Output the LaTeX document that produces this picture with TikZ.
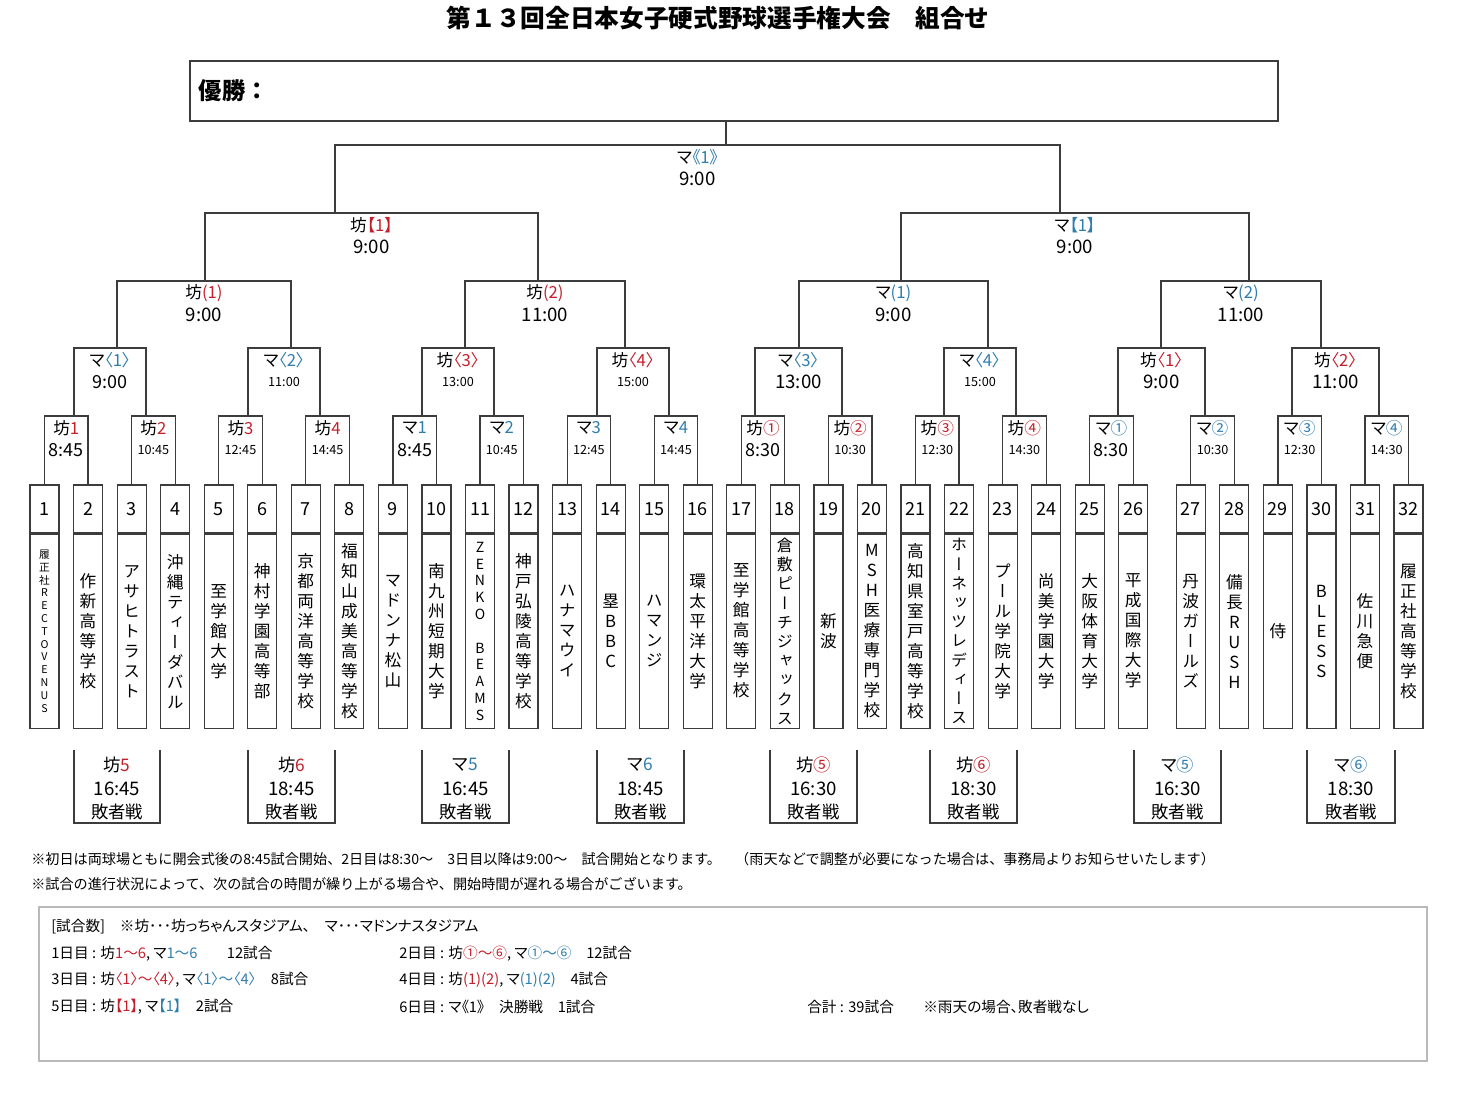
\documentclass[tikz,border=0pt]{standalone}
\usepackage{fontspec}
\setmainfont{Noto Sans CJK JP}
\newfontfamily\tatefont[RawFeature=+vert]{Noto Sans CJK JP}
\newfontfamily\paltfont[RawFeature=+palt]{Noto Sans CJK JP}
\usetikzlibrary{positioning}

\definecolor{boured}{HTML}{C3202B}
\definecolor{mablue}{HTML}{2F7DAE}
\definecolor{linegray}{HTML}{3C3C3C}
\definecolor{framegray}{HTML}{B9B9B9}

% stadium labels: number part coloured
\newcommand\bou[1]{坊\textcolor{boured}{#1}}
\newcommand\ma[1]{マ\textcolor{mablue}{#1}}

% team names written top to bottom, one character per line
\def\tateloop#1{\ifx#1\relax\else\hbox to 0pt{\hss#1\hss}\expandafter\tateloop\fi}
\newcommand\tate[1]{\vbox{\tatefont\expandafter\tateloop#1\relax}}

\begin{document}
\begin{tikzpicture}[
    x=0.75pt, y=-0.75pt,
    % Define line styles
    bracket/.style={draw=linegray, line width=0.9pt},
    numbox/.style={draw=linegray, line width=0.9pt, minimum width=21.75pt, minimum height=36pt,
        inner sep=0pt, font=\fontsize{13.5}{15}\selectfont},
    namebox/.style={draw=linegray, line width=0.9pt, minimum width=21.75pt, minimum height=145.5pt,
        inner sep=0pt},
    matchlbl/.style={inner sep=0pt, font=\paltfont\fontsize{12.5}{14}\selectfont},
    timelbl/.style={inner sep=0pt},
    loserlbl/.style={inner sep=0pt, font=\paltfont\fontsize{13}{15}\selectfont},
    notetext/.style={anchor=west, inner sep=0pt, font=\fontsize{10.6}{12}\selectfont},
    infotext/.style={anchor=west, inner sep=0pt, font=\paltfont\fontsize{11}{12}\selectfont}
]

% Page size
\useasboundingbox (0,0) rectangle (1472,1112);

% Title
\node[font=\bfseries\fontsize{18.5}{20}\selectfont] (title) at (718,18) {第１３回全日本女子硬式野球選手権大会　組合せ};

% Champion box
\node[draw=linegray, line width=0.9pt, minimum width=816pt, minimum height=45pt, inner sep=0pt] (champ) at (734,91) {};
\node[anchor=west, font=\bfseries\fontsize{17.5}{20}\selectfont] (yusho) at (194,91) {優勝：};
\draw[bracket] (champ.south -| 726,0) -- (726,145);

% Team boxes: number on top, name below
\foreach \i in {1,...,32} {
    \pgfmathsetmacro\cx{44.5+(\i-1)*43.55+(\i>26)*14}
    \node[numbox] (t\i) at (\cx,509) {\i};
    \node[namebox, below=0pt of t\i] (n\i) {};
}

% Team names
\foreach \i/\name/\sz in {
    1/履正社RECTOVENUS/8, 2/作新高等学校/12.5, 3/アサヒトラスト/12.5, 4/沖縄ティーダバル/12.5,
    5/至学館大学/12.5, 6/神村学園高等部/12.5, 7/京都両洋高等学校/12.5, 8/福知山成美高等学校/12.5,
    9/マドンナ松山/12.5, 10/南九州短期大学/12.5, 11/ZENKO~BEAMS/10.5, 12/神戸弘陵高等学校/12.5,
    13/ハナマウイ/12.5, 14/塁BBC/12.5, 15/ハマンジ/12.5, 16/環太平洋大学/12.5,
    17/至学館高等学校/12.5, 18/倉敷ピーチジャックス/12, 19/新波/12.5, 20/MSH医療専門学校/12.5,
    21/高知県室戸高等学校/12.5, 22/ホーネッツレディース/12, 23/プール学院大学/12.5, 24/尚美学園大学/12.5,
    25/大阪体育大学/12.5, 26/平成国際大学/12.5, 27/丹波ガールズ/12.5, 28/備長RUSH/12.5,
    29/侍/12.5, 30/BLESS/12.5, 31/佐川急便/12.5, 32/履正社高等学校/12.5} {
    \pgfmathsetmacro\bs{1.2*\sz}
    \node[inner sep=0pt, font=\fontsize{\sz}{\bs}\selectfont] (name\i) at (n\i.center) {\tate{\name}};
}

% First round: from team to team
\foreach \k/\lab/\tm/\fs in {
    1/\bou{1}/8:45/13.5, 2/\bou{2}/10:45/9.5, 3/\bou{3}/12:45/9.5, 4/\bou{4}/14:45/9.5,
    5/\ma{1}/8:45/13.5, 6/\ma{2}/10:45/9.5, 7/\ma{3}/12:45/9.5, 8/\ma{4}/14:45/9.5,
    9/\bou{①}/8:30/13.5, 10/\bou{②}/10:30/9.5, 11/\bou{③}/12:30/9.5, 12/\bou{④}/14:30/9.5,
    13/\ma{①}/8:30/13.5, 14/\ma{②}/10:30/9.5, 15/\ma{③}/12:30/9.5, 16/\ma{④}/14:30/9.5} {
    \pgfmathtruncatemacro\a{2*\k-1}
    \pgfmathtruncatemacro\b{2*\k}
    \draw[bracket] (t\a.north) -- (t\a.north |- 0,416) -- (t\b.north |- 0,416) -- (t\b.north);
    \path (t\a.north |- 0,428) -- (t\b.north |- 0,428) node[midway, matchlbl] (r\k) {\lab};
    \path (t\a.north |- 0,450) -- (t\b.north |- 0,450) node[midway, timelbl, font=\fontsize{\fs}{\fs}\selectfont] (rt\k) {\tm};
}

% Later rounds: legs, top line, label and start time
\foreach \l/\r/\yt/\yc/\lab/\tm/\fs in {
    74/146/348/416/\ma{〈1〉}/9:00/13.5, 248/320/348/416/\ma{〈2〉}/11:00/9.5,
    422/494/348/416/\bou{〈3〉}/13:00/9.5, 597/669/348/416/\bou{〈4〉}/15:00/9.5,
    755/842/348/416/\ma{〈3〉}/13:00/14, 944/1016/348/416/\ma{〈4〉}/15:00/9.5,
    1118/1205/348/416/\bou{〈1〉}/9:00/14, 1292/1379/348/416/\bou{〈2〉}/11:00/14,
    117/291/281/348/\bou{(1)}/9:00/14, 465/625/281/348/\bou{(2)}/11:00/14,
    799/988/281/348/\ma{(1)}/9:00/14, 1161/1321/281/348/\ma{(2)}/11:00/14,
    205/538/213/281/\bou{【1】}/9:00/14, 901/1249/213/281/\ma{【1】}/9:00/14,
    335/1060/145/213/\ma{《1》}/9:00/14} {
    \draw[bracket] (\l,\yc) |- (\r,\yt) -- (\r,\yc);
    \node[matchlbl] (m\l) at ({(\l+\r)/2},\yt+12) {\lab};
    \node[timelbl, font=\fontsize{\fs}{\fs}\selectfont] (mt\l) at ({(\l+\r)/2},\yt+34) {\tm};
}

% Losers' games
\foreach \l/\r/\lab/\tm in {
    74/160/\bou{5}/16:45, 248/335/\bou{6}/18:45, 422/509/\ma{5}/16:45, 597/684/\ma{6}/18:45,
    770/857/\bou{⑤}/16:30, 930/1017/\bou{⑥}/18:30, 1134/1221/\ma{⑤}/16:30, 1307/1395/\ma{⑥}/18:30} {
    \draw[bracket] (\l,750) |- (\r,823) -- (\r,750);
    \node[loserlbl] (lb\l) at ({(\l+\r)/2},765) {\lab};
    \node[loserlbl, font=\fontsize{14}{15}\selectfont] (lt\l) at ({(\l+\r)/2},789) {\tm};
    \node[loserlbl] (lz\l) at ({(\l+\r)/2},812) {敗者戦};
}

% Notes
\node[notetext] (note1) at (31,859) {※初日は両球場ともに開会式後の8:45試合開始、2日目は8:30～　3日目以降は9:00～　試合開始となります。　（雨天などで調整が必要になった場合は、事務局よりお知らせいたします）};
\node[notetext] (note2) at (31,884) {※試合の進行状況によって、次の試合の時間が繰り上がる場合や、開始時間が遅れる場合がございます。};

% Number of games
\draw[draw=framegray, line width=1pt] (39,907) rectangle (1427,1061);
\node[infotext] (info0) at (51,927) {[試合数]　※坊･･･坊っちゃんスタジアム、　マ･･･マドンナスタジアム};
\node[infotext] (day1) at (51,954) {1日目 : \bou{1～6}, \ma{1～6}　　12試合};
\node[infotext] (day2) at (399,954) {2日目 : \bou{①～⑥}, \ma{①～⑥}　12試合};
\node[infotext] (day3) at (51,980) {3日目 : \bou{〈1〉～〈4〉}, \ma{〈1〉～〈4〉}　8試合};
\node[infotext] (day4) at (399,980) {4日目 : \bou{(1)(2)}, \ma{(1)(2)}　4試合};
\node[infotext] (day5) at (51,1007) {5日目 : \bou{【1】}, \ma{【1】}　2試合};
\node[infotext] (day6) at (399,1007) {6日目 : マ《1》　決勝戦　1試合};
\node[infotext] (total) at (807,1007) {合計 : 39試合　　※雨天の場合、敗者戦なし};

\end{tikzpicture}
\end{document}
